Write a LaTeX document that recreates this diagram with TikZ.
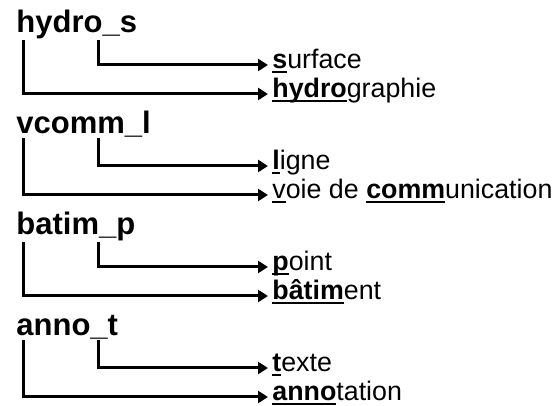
\documentclass[tikz,border=0pt]{standalone}
\usepackage{fontspec}
\setmainfont{Liberation Sans}
\usetikzlibrary{arrows.meta}

\newsavebox{\soulbox}
\newcommand{\souligne}[1]{\sbox{\soulbox}{#1}\rlap{\rule[-1.9pt]{\wd\soulbox}{1pt}}\usebox{\soulbox}}

\tikzset{
 titre/.style={anchor=base west,inner sep=0pt,font=\fontsize{15.5pt}{18pt}\selectfont\bfseries},
 etiq/.style={anchor=west,inner xsep=2pt,inner ysep=0pt,text height=4pt,text depth=0pt,font=\fontsize{13.4pt}{16pt}\selectfont},
 fleche/.style={line width=1.5pt,-{Triangle[length=5pt,width=6pt]}}
}

\begin{document}
\begin{tikzpicture}[x=0.5pt,y=-0.5pt]
\useasboundingbox (0,0) rectangle (553,406);

\node[titre] (hydro) at (16,33) {hydro\_s};
\node[etiq] (surface) at (268,65) {\souligne{\textbf{s}}urface};
\node[etiq] (hydrographie) at (268,94) {\souligne{\textbf{hydro}}graphie};
\draw[fleche] ([xshift=41pt]hydro.south west) |- (surface.west);
\draw[fleche] ([xshift=3.5pt]hydro.south west) |- (hydrographie.west);

\node[titre] (vcomm) at (16,134) {vcomm\_l};
\node[etiq] (ligne) at (268,166) {\souligne{\textbf{l}}igne};
\node[etiq] (voie) at (268,195) {\souligne{v}oie de \souligne{\textbf{comm}}unication};
\draw[fleche] ([xshift=41pt]vcomm.south west) |- (ligne.west);
\draw[fleche] ([xshift=3.5pt]vcomm.south west) |- (voie.west);

\node[titre] (batim) at (16,235) {batim\_p};
\node[etiq] (point) at (268,267) {\souligne{\textbf{p}}oint};
\node[etiq] (batiment) at (268,296) {\souligne{\textbf{bâtim}}ent};
\draw[fleche] ([xshift=41pt]batim.south west) |- (point.west);
\draw[fleche] ([xshift=3.5pt]batim.south west) |- (batiment.west);

\node[titre] (anno) at (16,336) {anno\_t};
\node[etiq] (texte) at (268,368) {\souligne{\textbf{t}}exte};
\node[etiq] (annotation) at (268,397) {\souligne{\textbf{anno}}tation};
\draw[fleche] ([xshift=41pt]anno.south west) |- (texte.west);
\draw[fleche] ([xshift=3.5pt]anno.south west) |- (annotation.west);
\end{tikzpicture}
\end{document}
